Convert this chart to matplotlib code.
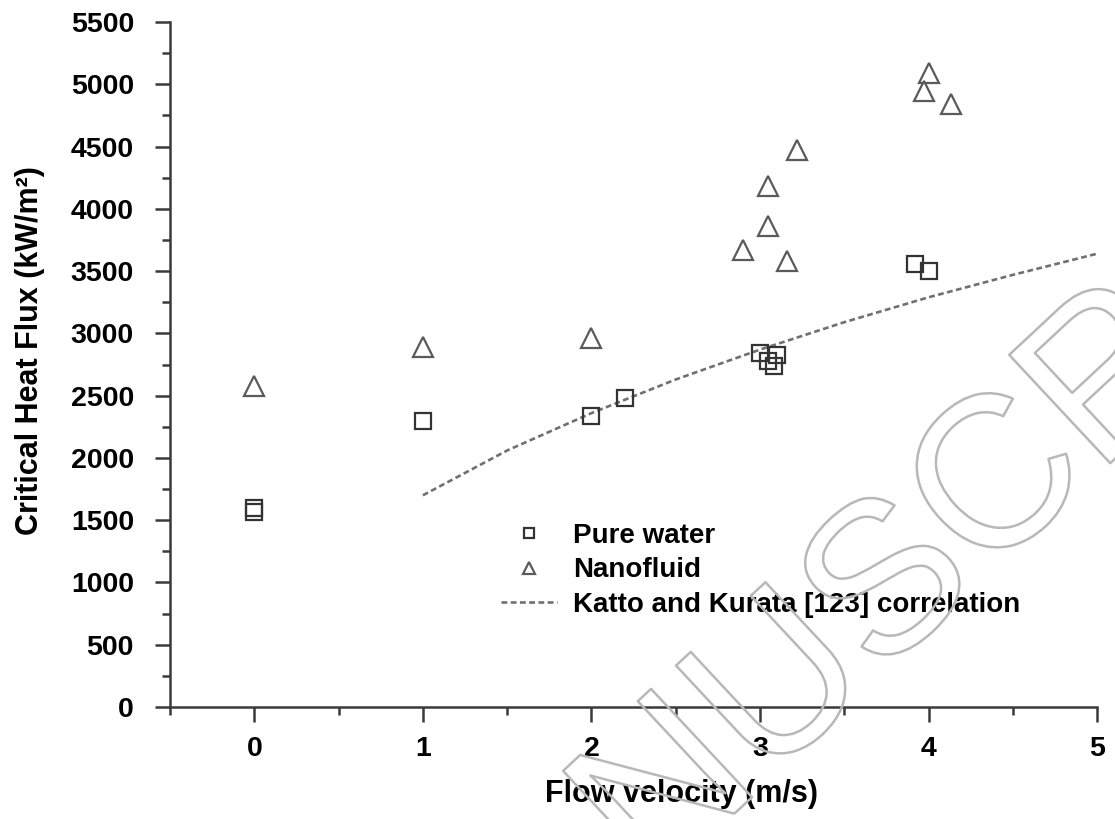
import numpy as np
import matplotlib
matplotlib.use("Agg")
import matplotlib.pyplot as plt
import matplotlib.patheffects as pe
from matplotlib.ticker import MultipleLocator

plt.rcParams['font.family'] = ['Liberation Sans', 'DejaVu Sans']
plt.rcParams['font.weight'] = 'bold'

# pure water CHF (m/s, kW/m2)
water_v = [0.0, 0.0, 1.0, 2.0, 2.2, 3.0, 3.05, 3.1, 3.08, 3.92, 4.0]
water_q = [1600, 1570, 2300, 2340, 2480, 2840, 2780, 2830, 2740, 3560, 3500]

# nanofluid CHF
nano_v = [0.0, 1.0, 2.0, 2.9, 3.05, 3.05, 3.16, 3.22, 3.97, 4.0, 4.13]
nano_q = [2580, 2890, 2960, 3670, 3860, 4180, 3580, 4470, 4950, 5090, 4840]

# Katto and Kurata correlation curve
kk_v = [1.0, 1.5, 2.0, 2.5, 3.0, 3.5, 4.0, 4.5, 5.0]
kk_q = [1700, 2060, 2360, 2630, 2870, 3090, 3290, 3470, 3640]

fig = plt.figure(figsize=(11.15, 8.19), dpi=100)
ax = fig.add_axes([0.1525, 0.1367, 0.8315, 0.8364])

ax.plot(kk_v, kk_q, linestyle=(0, (2.2, 1.3)), color='#707070', lw=1.9,
        label='Katto and Kurata [123] correlation', zorder=2)
ax.plot(water_v, water_q, 's', ms=12, mfc='none', mec='#333333', mew=1.6,
        label='Pure water', zorder=3)
ax.plot(nano_v, nano_q, '^', ms=15, mfc='none', mec='#5a5a5a', mew=1.6,
        label='Nanofluid', zorder=3)

ax.set_xlim(-0.5, 5)
ax.set_ylim(0, 5500)
ax.xaxis.set_major_locator(MultipleLocator(1))
ax.xaxis.set_minor_locator(MultipleLocator(0.5))
ax.yaxis.set_major_locator(MultipleLocator(500))
ax.yaxis.set_minor_locator(MultipleLocator(250))

for s in ['top', 'right']:
    ax.spines[s].set_visible(False)
for s in ['left', 'bottom']:
    ax.spines[s].set_color('#3a3a3a')
    ax.spines[s].set_linewidth(1.8)

ax.tick_params(which='both', direction='out', color='#3a3a3a', width=1.8)
ax.tick_params(which='major', length=11, labelsize=20.5)
ax.tick_params(which='minor', length=6)
ax.tick_params(axis='y', which='major', pad=15)
ax.tick_params(axis='x', which='major', pad=10)

ax.set_xlabel('Flow velocity (m/s)', fontsize=22, fontweight='bold')
ax.set_ylabel('Critical Heat Flux (kW/m²)', fontsize=22, fontweight='bold')
ax.xaxis.set_label_coords(0.552, -0.105)
ax.yaxis.set_label_coords(-0.135, 0.52)

h, l = ax.get_legend_handles_labels()
leg = ax.legend([h[1], h[2], h[0]], [l[1], l[2], l[0]], frameon=False,
                loc='upper left', bbox_to_anchor=(0.345, 0.285),
                fontsize=20, markerscale=0.6, handlelength=2.0,
                handletextpad=0.6, labelspacing=0.3, borderaxespad=0)

# watermark
fig.text(0.805, 0.285, 'MANUSCRIPT', fontsize=155, rotation=43,
         ha='center', va='center', rotation_mode='anchor',
         color='none', fontweight='normal', zorder=10,
         path_effects=[pe.Stroke(linewidth=1.8, foreground='#b8b8b8')])

fig.savefig('out.png', dpi=100)
